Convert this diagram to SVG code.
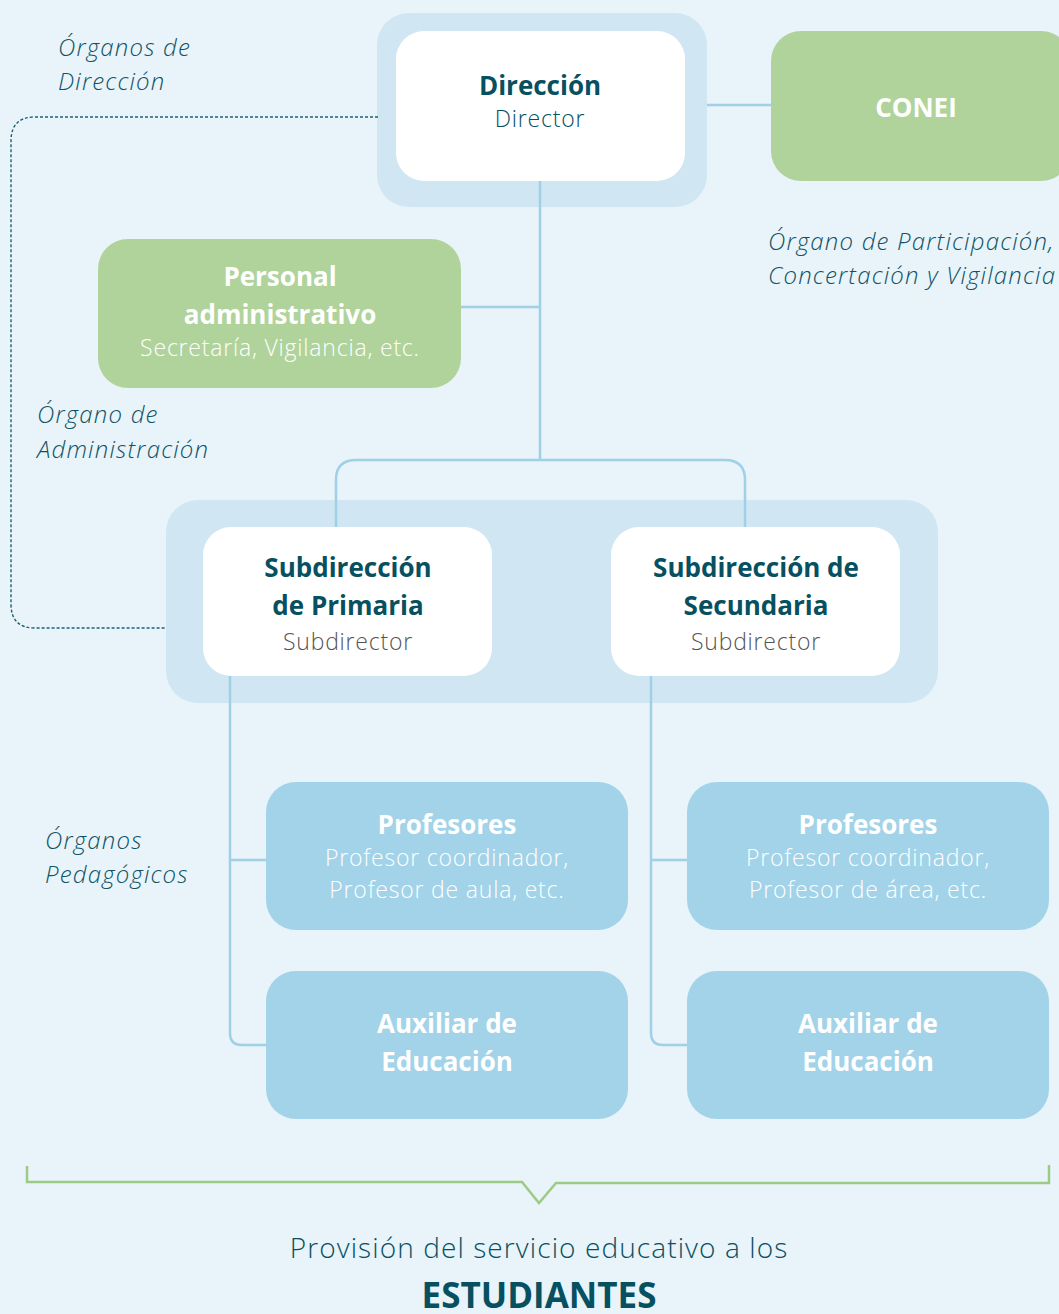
<svg xmlns="http://www.w3.org/2000/svg" width="1059" height="1314" viewBox="0 0 1059 1314">
<style>
text{font-family:"Open Sans","Noto Sans","Liberation Sans",sans-serif;text-anchor:middle}
.lbl{font-style:italic;font-size:24px;font-weight:300;letter-spacing:1.2px;fill:#0F5364;text-anchor:start}
.b{font-weight:bold;font-size:26px}
.r{font-size:23px;font-weight:300;letter-spacing:0.8px}
.dk{fill:#07505F}
.w{fill:#FFFFFF}
.g{fill:#555555}
.halo{fill:#D0E7F3}
.white{fill:#FFFFFF}
.green{fill:#B0D39C}
.blue{fill:#A2D3E8}
.con{fill:none;stroke:#9FD0E7;stroke-width:2.5}
</style>
<rect width="1059" height="1314" fill="#E8F3FA"/>
<rect class="halo" x="377" y="13" width="330" height="194" rx="32"/>
<rect class="halo" x="166" y="500" width="772" height="203" rx="32"/>
<g id="connectors">
<path class="con" d="M707 105H771"/>
<path class="con" d="M540 181V460"/>
<path class="con" d="M461 307H540"/>
<path class="con" d="M336 527V480Q336 460 356 460H725Q745 460 745 480V527"/>
<path class="con" d="M230 676V1033Q230 1045 242 1045H266M230 860H266"/>
<path class="con" d="M651 676V1033Q651 1045 663 1045H687M651 860H687"/>
<path d="M378 117H35Q11 117 11 141V604Q11 628 35 628H166" fill="none" stroke="#1E6272" stroke-width="1.4" stroke-dasharray="3 2"/>
</g>
<g id="direccion">
<rect class="white" x="396" y="31" width="289" height="150" rx="28"/>
<text x="540" y="95" class="b dk">Dirección</text>
<text x="540" y="127" class="r dk">Director</text>
</g>
<g id="conei">
<rect class="green" x="771" y="31" width="300" height="150" rx="30"/>
<text x="916" y="117" class="b w">CONEI</text>
</g>
<g id="personal">
<rect class="green" x="98" y="239" width="363" height="149" rx="30"/>
<text x="280" y="286" class="b w">Personal</text>
<text x="280" y="324" class="b w">administrativo</text>
<text x="280" y="356" class="r w">Secretaría, Vigilancia, etc.</text>
</g>
<g id="sub-primaria">
<rect class="white" x="203" y="527" width="289" height="149" rx="28"/>
<text x="348" y="577" class="b dk">Subdirección</text>
<text x="348" y="615" class="b dk">de Primaria</text>
<text x="348" y="650" class="r g">Subdirector</text>
</g>
<g id="sub-secundaria">
<rect class="white" x="611" y="527" width="289" height="149" rx="28"/>
<text x="756" y="577" class="b dk">Subdirección de</text>
<text x="756" y="615" class="b dk">Secundaria</text>
<text x="756" y="650" class="r g">Subdirector</text>
</g>
<g id="profesores-primaria">
<rect class="blue" x="266" y="782" width="362" height="148" rx="30"/>
<text x="447" y="834" class="b w">Profesores</text>
<text x="447" y="866" class="r w">Profesor coordinador,</text>
<text x="447" y="898" class="r w">Profesor de aula, etc.</text>
</g>
<g id="auxiliar-primaria">
<rect class="blue" x="266" y="971" width="362" height="148" rx="30"/>
<text x="447" y="1033" class="b w">Auxiliar de</text>
<text x="447" y="1071" class="b w">Educación</text>
</g>
<g id="profesores-secundaria">
<rect class="blue" x="687" y="782" width="362" height="148" rx="30"/>
<text x="868" y="834" class="b w">Profesores</text>
<text x="868" y="866" class="r w">Profesor coordinador,</text>
<text x="868" y="898" class="r w">Profesor de área, etc.</text>
</g>
<g id="auxiliar-secundaria">
<rect class="blue" x="687" y="971" width="362" height="148" rx="30"/>
<text x="868" y="1033" class="b w">Auxiliar de</text>
<text x="868" y="1071" class="b w">Educación</text>
</g>
<g id="labels">
<text class="lbl" x="58" y="56">Órganos de</text>
<text class="lbl" x="58" y="90">Dirección</text>
<text class="lbl" x="768" y="250">Órgano de Participación,</text>
<text class="lbl" x="768" y="284">Concertación y Vigilancia</text>
<text class="lbl" x="37" y="423">Órgano de</text>
<text class="lbl" x="37" y="458">Administración</text>
<text class="lbl" x="45" y="849">Órganos</text>
<text class="lbl" x="45" y="883">Pedagógicos</text>
</g>
<g id="estudiantes">
<path d="M27 1166V1182H522L539 1203L556 1183H1049V1165" fill="none" stroke="#9CCB85" stroke-width="2.5"/>
<text x="539" y="1258" font-size="28" font-weight="300" letter-spacing="1.1" class="dk">Provisión del servicio educativo a los</text>
<text x="539" y="1308" font-size="35" font-weight="bold" class="dk">ESTUDIANTES</text>
</g>
</svg>
